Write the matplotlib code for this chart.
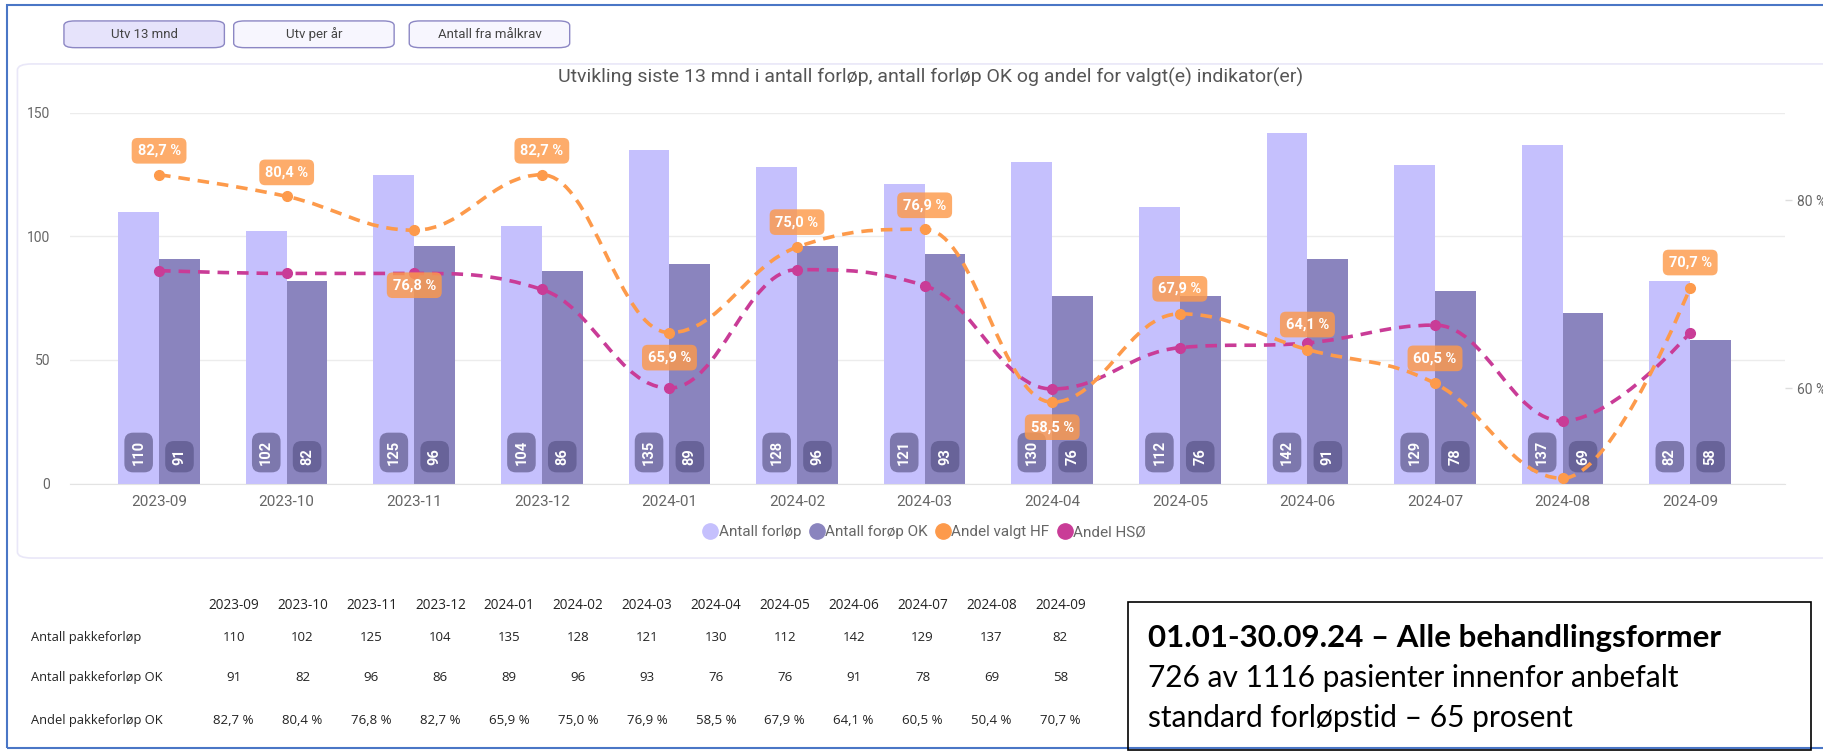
import numpy as np
import matplotlib.pyplot as plt
from matplotlib.path import Path
from matplotlib.patches import PathPatch, FancyBboxPatch, Rectangle
from matplotlib.lines import Line2D

# values
months = ['2023-09', '2023-10', '2023-11', '2023-12', '2024-01', '2024-02', '2024-03',
          '2024-04', '2024-05', '2024-06', '2024-07', '2024-08', '2024-09']
antall = [110, 102, 125, 104, 135, 128, 121, 130, 112, 142, 129, 137, 82]
antall_ok = [91, 82, 96, 86, 89, 96, 93, 76, 76, 91, 78, 69, 58]
andel_hf = [82.7, 80.4, 76.8, 82.7, 65.9, 75.0, 76.9, 58.5, 67.9, 64.1, 60.5, 50.4, 70.7]
andel_hso = [72.5, 72.2, 72.2, 70.5, 60.0, 72.6, 70.9, 59.9, 64.3, 64.8, 66.7, 56.5, 65.9]

legend_names = ['Antall forløp', 'Antall forøp OK', 'Andel valgt HF', 'Andel HSØ']
row_names = ['Antall pakkeforløp', 'Antall pakkeforløp OK', 'Andel pakkeforløp OK']
buttons = ['Utv 13 mnd', 'Utv per år', 'Antall fra målkrav']
title = 'Utvikling siste 13 mnd i antall forløp, antall forløp OK og andel for valgt(e) indikator(er)'
box_lines = ['01.01-30.09.24 – Alle behandlingsformer',
             '726 av 1116 pasienter innenfor anbefalt',
             'standard forløpstid – 65 prosent']

C_LIGHT = '#c5c0fd'
C_DARK = '#8a84be'
C_ORANGE = '#fd9a4b'
C_MAGENTA = '#c93c97'
C_GREY = '#666666'

plt.rcParams['font.family'] = ['Roboto', 'DejaVu Sans']

W, H = 1568.0, 646.0  # layout measured on the shrunk reference


def fx(x):
    return x / W


def fy(y):
    return 1 - y / H


def pct(v):
    return f'{v:.1f}'.replace('.', ',') + ' %'


def spline_path(xs, ys):
    # highcharts style spline (smoothing 1.5, flat at extremes)
    n = len(xs)
    sm = 1.5
    den = sm + 1
    lc = [(xs[i], ys[i]) for i in range(n)]
    rc = [(xs[i], ys[i]) for i in range(n)]
    for i in range(1, n - 1):
        px, py = xs[i], ys[i]
        lx, ly = xs[i - 1], ys[i - 1]
        nx, ny = xs[i + 1], ys[i + 1]
        lcx = (sm * px + lx) / den
        lcy = (sm * py + ly) / den
        rcx = (sm * px + nx) / den
        rcy = (sm * py + ny) / den
        corr = ((rcy - lcy) * (rcx - px)) / (rcx - lcx) + py - rcy
        lcy += corr
        rcy += corr
        if lcy > ly and lcy > py:
            lcy = max(ly, py)
            rcy = 2 * py - lcy
        elif lcy < ly and lcy < py:
            lcy = min(ly, py)
            rcy = 2 * py - lcy
        if rcy > ny and rcy > py:
            rcy = max(ny, py)
            lcy = 2 * py - rcy
        elif rcy < ny and rcy < py:
            rcy = min(ny, py)
            lcy = 2 * py - rcy
        lc[i] = (lcx, lcy)
        rc[i] = (rcx, rcy)
    verts = [(xs[0], ys[0])]
    codes = [Path.MOVETO]
    for i in range(1, n):
        verts += [rc[i - 1], lc[i], (xs[i], ys[i])]
        codes += [Path.CURVE4] * 3
    return Path(verts, codes)


fig = plt.figure(figsize=(18.23, 7.51), dpi=100)

# outer frame
fig.add_artist(Rectangle((0.004, 0.004), 1.2, 0.99, transform=fig.transFigure,
                         fill=False, edgecolor='#4a76c6', lw=1.5))

# buttons
for k, (x0, x1) in enumerate([(55, 193), (201, 339), (352, 490)]):
    face = '#e6e3fb' if k == 0 else '#f7f6fe'
    fig.add_artist(FancyBboxPatch((fx(x0), fy(41)), fx(x1 - x0), 23 / H,
                                  boxstyle='round,pad=0,rounding_size=0.006',
                                  transform=fig.transFigure, facecolor=face,
                                  edgecolor='#8c87c4', lw=1.0))
    fig.text(fx((x0 + x1) / 2), fy(29.5), buttons[k], ha='center', va='center',
             fontsize=9.5, color='#444444')

# chart panel
fig.add_artist(FancyBboxPatch((fx(15), fy(480)), 1.1, 425 / H,
                              boxstyle='round,pad=0,rounding_size=0.008',
                              transform=fig.transFigure, facecolor='none',
                              edgecolor='#e9e7f8', lw=1.2))
fig.text(fx(800), fy(67), title, ha='center', va='center', fontsize=14, color='#555555')

# main axes
ax = fig.add_axes([fx(60), fy(416), fx(1535 - 60), (416 - 97) / H])
x = np.arange(len(months))
bw = 0.32
ax.bar(x - bw / 2, antall, bw, color=C_LIGHT, zorder=2)
ax.bar(x + bw / 2, antall_ok, bw, color=C_DARK, zorder=2)
ax.set_xlim(-0.70, 12.74)
ax.set_ylim(0, 150)
ax.set_yticks([0, 50, 100, 150])
ax.grid(axis='y', color='#ececec', lw=1.0, zorder=0)
ax.set_axisbelow(True)
for s in ['top', 'right', 'left']:
    ax.spines[s].set_visible(False)
ax.spines['bottom'].set_color('#e3e3e3')
ax.set_xticks(x)
ax.set_xticklabels(months)
ax.tick_params(axis='x', length=0, pad=8, labelsize=11, labelcolor=C_GREY)
ax.tick_params(axis='y', length=0, pad=14, labelsize=10, labelcolor=C_GREY)

# bar value labels
for i in range(len(months)):
    for xx, v, fc in [(x[i] - bw / 2, antall[i], '#716c9f'), (x[i] + bw / 2, antall_ok[i], '#625e93')]:
        ax.text(xx, 7.5, str(v), rotation=90, ha='center', va='bottom', fontsize=10.5,
                color='white', fontweight='bold', zorder=4,
                bbox=dict(boxstyle='round,pad=0.5,rounding_size=0.6', fc=fc, ec='none', alpha=0.85))

# percentage lines on the right axis
ax2 = ax.twinx()
ax2.set_ylim(49.83, 89.3)
ax2.set_yticks([60, 80])
ax2.set_yticklabels(['60 %', '80 %'])
ax2.tick_params(axis='y', length=5, width=1, color='#dddddd', pad=4, labelsize=10,
                labelcolor=C_GREY)
for s in ['top', 'right', 'left', 'bottom']:
    ax2.spines[s].set_visible(False)

for vals, col in [(andel_hso, C_MAGENTA), (andel_hf, C_ORANGE)]:
    ax2.add_patch(PathPatch(spline_path(list(x), vals), fill=False, edgecolor=col, lw=2.6,
                            linestyle=(0, (3.2, 2.2)), zorder=5))
    ax2.plot(x, vals, 'o', color=col, markersize=7, zorder=6)

# orange value labels (None = hidden in the reference)
label_shift = [-24, -24, 55, -24, 25, -25, -24, 25, -25, -25, -25, None, -25]
for i, v in enumerate(andel_hf):
    if label_shift[i] is None:
        continue
    ax2.annotate(pct(v), (x[i], v), xytext=(0, -label_shift[i]), textcoords='offset pixels',
                 ha='center', va='center', fontsize=10.5, color='white', fontweight='bold',
                 zorder=7, bbox=dict(boxstyle='round,pad=0.4,rounding_size=0.4',
                                     fc='#fd9a4b', ec='none', alpha=0.82))

# legend
handles = [Line2D([], [], marker='o', ls='none', color=c, markersize=11)
           for c in [C_LIGHT, C_DARK, C_ORANGE, C_MAGENTA]]
leg = fig.legend(handles, legend_names, loc='center', bbox_to_anchor=(fx(795), fy(458)),
                 ncol=4, frameon=False, fontsize=11, handletextpad=0.05,
                 columnspacing=0.5, handlelength=1.0)
for t in leg.get_texts():
    t.set_color(C_GREY)

# table below the chart
tfont = ['Open Sans', 'DejaVu Sans']
col_x = [201 + k * (912 - 201) / 12 for k in range(len(months))]
for k, m in enumerate(months):
    fig.text(fx(col_x[k]), fy(521), m, ha='center', va='center', fontsize=9.8, color='#222222',
             family=tfont)
rows = [[str(v) for v in antall], [str(v) for v in antall_ok], [pct(v) for v in andel_hf]]
for r, (name, vals) in enumerate(zip(row_names, rows)):
    yy = [548, 583, 620][r]
    fig.text(fx(27), fy(yy), name, ha='left', va='center', fontsize=9.3, color='#222222',
             family=tfont)
    for k, s in enumerate(vals):
        fig.text(fx(col_x[k]), fy(yy), s, ha='center', va='center', fontsize=9.5,
                 color='#222222', family=tfont)

# summary box
fig.add_artist(Rectangle((fx(970), fy(645)), fx(1558 - 970), (645 - 518) / H,
                         transform=fig.transFigure, fill=False, edgecolor='black', lw=1.2))
bfont = ['Lato', 'DejaVu Sans']
for j, (line, yy) in enumerate(zip(box_lines, [549, 583, 618])):
    fig.text(fx(987), fy(yy), line, ha='left', va='center',
             fontsize=22.5 if j == 0 else 21.5,
             fontweight='bold' if j == 0 else 'normal', color='black', family=bfont)

fig.savefig('out.png', dpi=100)
